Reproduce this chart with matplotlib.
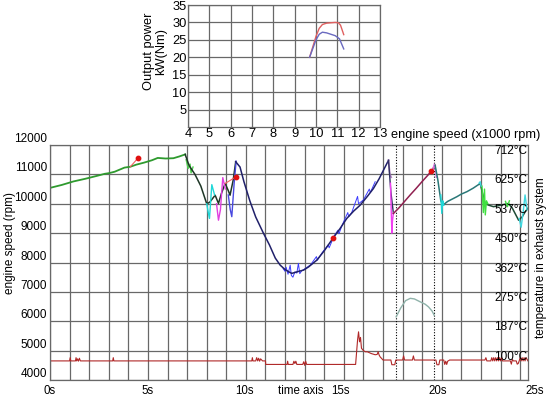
import matplotlib
matplotlib.use("Agg")
import matplotlib.pyplot as plt
import matplotlib.transforms as mtransforms

plt.rcParams['font.family'] = ['Liberation Sans', 'DejaVu Sans']

# ---- inset: output power vs engine speed ----
power_red_x = [9.7, 9.85, 10.0, 10.15, 10.3, 10.5, 10.7, 10.9, 11.05, 11.15, 11.3]
power_red_y = [20, 23, 26, 28.3, 29.4, 29.8, 29.9, 30, 29.9, 29.2, 26.5]
power_blue_x = [9.7, 9.85, 10.0, 10.15, 10.3, 10.5, 10.7, 10.9, 11.1, 11.3]
power_blue_y = [20, 22.5, 25, 26.6, 27.2, 27.0, 26.6, 26.2, 25.3, 22.4]
inset_xticks = [4, 5, 6, 7, 8, 9, 10, 11, 12, 13]
inset_yticks = [5, 10, 15, 20, 25, 30, 35]

# ---- main: engine speed vs time ----
green_t = [0.0, 0.6, 1.2, 1.8, 2.4, 2.8, 3.0, 3.3, 3.8, 4.1, 4.4, 4.8, 5.2, 5.5, 5.9, 6.3, 6.6, 6.9]
green_rpm = [10540, 10640, 10760, 10850, 10950, 11020, 11040, 11090, 11230, 11260, 11330, 11400,
             11480, 11560, 11540, 11550, 11610, 11680]
lgreen_t = [6.95, 7.05, 7.15, 7.2, 7.3]
lgreen_rpm = [11500, 11200, 11350, 11050, 11250]
dark_t = [6.9, 7.1, 7.4, 7.7, 7.9, 8.0, 8.15, 8.43, 8.6, 8.75, 8.94, 9.1, 9.19, 9.35, 9.48]
dark_rpm = [11680, 11300, 11000, 10600, 10200, 10000, 10050, 10290, 10010, 10350, 10690, 10450,
            10290, 10800, 11430]
cyan_t = [8.0, 8.08, 8.14, 8.26, 8.4]
cyan_rpm = [10000, 9700, 9500, 10650, 10300]
magenta_t = [8.5, 8.6, 8.7, 8.82, 8.95]
magenta_rpm = [10000, 9440, 9800, 10890, 10500]
blue_t = [9.1, 9.2, 9.28, 9.4, 9.5]
blue_rpm = [10300, 9800, 9560, 10700, 11450]
navy_t = [9.48, 9.7, 9.9, 10.2, 10.5, 10.9, 11.2, 11.5, 11.75, 12.0, 12.2, 12.34, 12.5, 12.7,
          12.94, 13.2, 13.62, 14.0, 14.47, 14.8, 15.15, 15.5, 15.83, 16.2, 16.51, 16.8, 17.02, 17.28]
navy_rpm = [11430, 11250, 10750, 10100, 9550, 8990, 8600, 8150, 7910, 7760, 7680, 7630, 7660, 7700,
            7740, 7850, 8080, 8400, 8850, 9150, 9500, 9750, 9950, 10250, 10520, 10850, 11140, 11480]
noise_t = [11.9, 12.0, 12.05, 12.15, 12.26, 12.32, 12.4, 12.5, 12.6, 12.68, 12.75, 12.85, 13.0,
           13.3, 13.6, 13.65, 13.9, 14.2, 14.25, 14.5, 14.7, 14.75, 14.9, 15.2, 15.25, 15.4,
           15.7, 15.75, 16.0, 16.3, 16.35, 16.6]
noise_rpm = [7790, 7700, 7840, 7600, 7910, 7560, 7500, 7680, 7640, 7970, 7620, 7720, 7780,
             7920, 8200, 8080, 8340, 8600, 8500, 8900, 9100, 8980, 9250, 9700, 9560, 9700,
             10250, 10000, 10130, 10500, 10380, 10750]
lilac_t = [17.28, 17.35, 17.42]
lilac_rpm = [11480, 11000, 10900]
pink_t = [17.38, 17.45, 17.48, 17.53]
pink_rpm = [10700, 9000, 9400, 9700]
drop_t = [17.28, 17.4, 17.53]
drop_rpm = [11480, 10400, 9670]
maroon_t = [17.53, 17.8, 18.1, 18.4, 18.7, 19.0, 19.3, 19.49, 19.66]
maroon_rpm = [9670, 9850, 10080, 10310, 10530, 10760, 10980, 11140, 11310]
top_pink_t = [19.55, 19.62, 19.68, 19.72]
top_pink_rpm = [11200, 11350, 11150, 10900]
teal_t = [19.66, 19.8, 19.95, 20.05, 20.3, 20.77, 21.0, 21.28, 21.6, 21.96]
teal_rpm = [11310, 10800, 10100, 9950, 10080, 10240, 10330, 10410, 10530, 10690]
cyan2_t = [19.95, 20.0, 20.05, 20.1]
cyan2_rpm = [10300, 9670, 10100, 9950]
tail_t = [21.96, 22.1, 22.2, 22.4, 22.64, 23.0, 23.4, 23.6, 23.92, 24.1, 24.26, 24.4]
tail_rpm = [10690, 10300, 10010, 9950, 9900, 9950, 10010, 9850, 9440, 9550, 9730, 9850]
lgreen2_t = [22.05, 22.12, 22.18, 22.22, 22.28, 22.35]
lgreen2_rpm = [10600, 9700, 10500, 9620, 10100, 10000]
lgreen3_t = [23.25, 23.35, 23.45]
lgreen3_rpm = [10080, 9900, 10100]
cyan3_t = [21.9, 21.96, 22.0, 23.95, 24.05, 24.15, 24.25, 24.35]
cyan3_rpm = [10700, 10750, 10600, 9500, 9200, 9700, 10300, 9800]
arc_t = [17.67, 17.9, 18.15, 18.39, 18.6, 18.9, 19.15, 19.32, 19.5, 19.61]
arc_rpm = [6150, 6450, 6700, 6780, 6760, 6660, 6580, 6490, 6350, 6210]
marker_t = [4.5, 9.5, 14.47, 19.45]
marker_rpm = [11560, 10920, 8850, 11120]
marker_link_t = [[4.1, 4.5], [8.94, 9.5]]
marker_link_rpm = [[11260, 11560], [10690, 10920]]
red_t = [0, 1.0, 1.03, 1.06, 1.3, 1.33, 1.36, 1.4, 1.45, 1.5, 1.55, 1.6, 3.2, 3.23, 3.26,
         10.3, 10.33, 10.36, 10.5, 10.55, 10.6, 10.65, 10.7, 10.75, 10.85, 10.95, 11.0, 11.01,
         12.1, 12.13, 12.16, 12.4, 12.45, 12.5, 12.55, 12.6, 12.9, 12.95, 13.0, 13.05, 13.1,
         15.6, 15.7, 15.75, 15.8, 15.85, 15.9, 16.0, 16.1, 16.2, 16.4, 16.6, 16.7, 16.75, 16.8,
         16.85, 17.0, 17.4, 17.45, 17.6, 17.65, 18.0, 18.05, 18.1, 18.5, 18.55, 18.6, 19.7,
         19.75, 19.85, 19.9, 20.1, 20.15, 20.2, 20.25, 20.3, 20.4, 20.45, 22.2, 22.25, 22.3,
         22.5, 22.55, 22.6, 22.65, 22.7, 22.75, 22.8, 22.85, 22.9, 22.95, 23.0, 23.05, 23.1,
         23.5, 23.55, 23.6, 23.65, 23.8, 23.85, 23.9, 23.95, 24.0, 24.05, 24.1, 24.15, 24.2,
         24.25, 24.3, 24.4]
red_v = [4650, 4650, 4760, 4650, 4650, 4760, 4650, 4720, 4640, 4740, 4650, 4650, 4650, 4760, 4650,
         4650, 4760, 4650, 4650, 4760, 4650, 4740, 4640, 4720, 4650, 4650, 4650, 4530,
         4530, 4640, 4530, 4530, 4640, 4560, 4640, 4530, 4530, 4620, 4500, 4640, 4530,
         4530, 5360, 5640, 5300, 5450, 5080, 5000, 4960, 4960, 4900, 4860, 4870, 4960, 4850,
         4790, 4680, 4680, 4520, 4520, 4680, 4680, 4820, 4680, 4680, 4820, 4680, 4680,
         4520, 4520, 4680, 4680, 4530, 4640, 4530, 4640, 4680, 4680, 4680, 4760, 4650,
         4650, 4760, 4650, 4760, 4650, 4760, 4650, 4760, 4650, 4760, 4650, 4760, 4650,
         4650, 4540, 4700, 4650, 4650, 4540, 4560, 4650, 4760, 4650, 4760, 4650, 4760,
         4650, 4760, 4650]
dotted_t = [17.67, 19.61]

speed_ticks = list(range(4000, 12001, 1000))
time_labels = ['0s', '5s', '10s', '15s', '20s', '25s']
time_label_pos = [0, 5, 9.9, 14.85, 19.8, 24.75]
temp_labels = ['100°C', '187°C', '275°C', '362°C', '450°C', '537°C', '625°C', '712°C']
temp_rows = [5000, 6000, 7000, 8000, 9000, 10000, 11000, 12000]

GRID = '#686868'

fig = plt.figure(figsize=(5.49, 3.97), dpi=100)

# inset axes
ax2 = fig.add_axes([188 / 549, 1 - 127 / 397, 192 / 549, 122 / 397])
ax2.plot(power_red_x, power_red_y, color='#e06060', lw=1.0)
ax2.plot(power_blue_x, power_blue_y, color='#6a6ac0', lw=1.0)
ax2.set_xlim(4, 13)
ax2.set_ylim(0, 35)
ax2.set_xticks(inset_xticks)
ax2.set_yticks(inset_yticks)
ax2.tick_params(length=0, labelsize=9.3, pad=1)
ax2.grid(True, color=GRID, lw=0.9)
for s in ax2.spines.values():
    s.set_color(GRID)
    s.set_linewidth(0.9)
ax2.text(-0.17, 0.62, 'Output power\nkW(Nm)', transform=ax2.transAxes, rotation=90,
         ha='center', va='center', fontsize=9.3, linespacing=1.0)
ax2.text(1.055, -0.015, 'engine speed (x1000 rpm)', transform=ax2.transAxes,
         ha='left', va='top', fontsize=9.2)

# main axes
ax = fig.add_axes([50 / 549, 1 - 380 / 397, 478 / 549, 235 / 397])
ax.set_xlim(0, 24.4)
ax.set_ylim(4000, 12000)
ax.set_xticks(range(0, 25))
ax.set_xticklabels([])
ax.set_yticks(speed_ticks)
ax.set_yticklabels([str(v) for v in speed_ticks])
for lab in ax.get_yticklabels():
    lab.set_va('bottom')
ax.tick_params(length=0, labelsize=8.5, pad=2)
ax.grid(True, color=GRID, lw=0.9)
for s in ax.spines.values():
    s.set_color(GRID)
    s.set_linewidth(0.9)

for t in dotted_t:
    ax.axvline(t, color='black', lw=0.8, ls=(0, (1, 1.5)))

ax.plot(red_t, red_v, color='#b02828', lw=0.8)
ax.plot(arc_t, arc_rpm, color='#8fb2aa', lw=1.0)
ax.plot(green_t, green_rpm, color='#2e9a2e', lw=1.3)
ax.plot(lgreen_t, lgreen_rpm, color='#50d050', lw=1.0)
ax.plot(dark_t, dark_rpm, color='#1e3626', lw=1.1)
ax.plot(cyan_t, cyan_rpm, color='#20d8d8', lw=1.0)
ax.plot(magenta_t, magenta_rpm, color='#e040e0', lw=1.0)
ax.plot(blue_t, blue_rpm, color='#4848e0', lw=1.0)
ax.plot(noise_t, noise_rpm, color='#3a3aff', lw=0.7)
ax.plot(navy_t, navy_rpm, color='#20206a', lw=1.1)
ax.plot(lilac_t, lilac_rpm, color='#b888c8', lw=1.2)
ax.plot(drop_t, drop_rpm, color='#303060', lw=1.0)
ax.plot(pink_t, pink_rpm, color='#f040f0', lw=1.0)
ax.plot(maroon_t, maroon_rpm, color='#902050', lw=1.1)
ax.plot(top_pink_t, top_pink_rpm, color='#e070e0', lw=1.0)
ax.plot(teal_t, teal_rpm, color='#2a7878', lw=1.1)
ax.plot(cyan2_t, cyan2_rpm, color='#20d8d8', lw=1.0)
ax.plot(tail_t, tail_rpm, color='#1e4a34', lw=1.1)
ax.plot(lgreen2_t, lgreen2_rpm, color='#40e040', lw=1.0)
ax.plot(lgreen3_t, lgreen3_rpm, color='#40e040', lw=1.0)
ax.plot(cyan3_t[:3], cyan3_rpm[:3], color='#40d8e0', lw=1.0)
ax.plot(cyan3_t[3:], cyan3_rpm[3:], color='#40d8e0', lw=1.0)
for lt, lr in zip(marker_link_t, marker_link_rpm):
    ax.plot(lt, lr, color='#f06060', lw=0.8)
ax.scatter(marker_t, marker_rpm, color='#e01010', s=10, zorder=5)

# time labels under the axis
for pos, lab in zip(time_label_pos, time_labels):
    ax.text(pos, -0.048, lab, transform=ax.get_xaxis_transform(), ha='center', va='center',
            fontsize=8.3, clip_on=False)
ax.text(0.525, -0.048, 'time axis', transform=ax.transAxes, ha='center', va='center',
        fontsize=8.3)

# temperature scale on the right
trans = mtransforms.blended_transform_factory(ax.transAxes, ax.transData)
for row, lab in zip(temp_rows, temp_labels):
    ax.text(0.999, row, lab, transform=trans, ha='right', va='top', fontsize=8.5)

fig.text(10 / 549, 1 - 243 / 397, 'engine speed (rpm)', rotation=90, ha='center', va='center',
         fontsize=8.5)
fig.text(541 / 549, 1 - 258 / 397, 'temperature in exhaust system', rotation=90, ha='center',
         va='center', fontsize=8.5)

fig.savefig('out.png', dpi=100)
